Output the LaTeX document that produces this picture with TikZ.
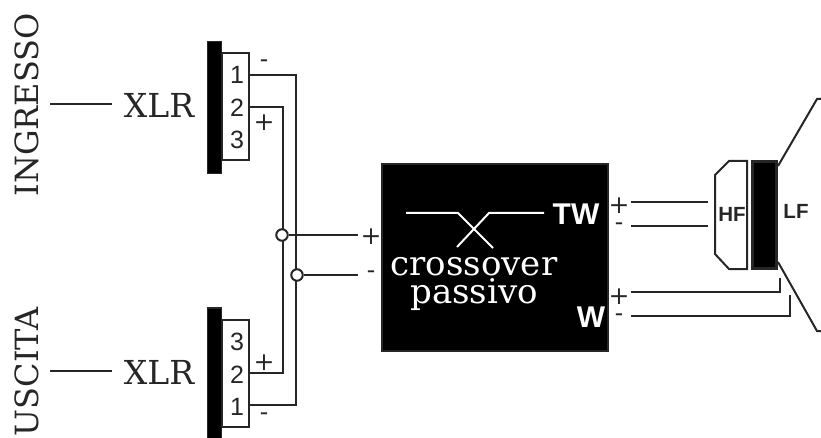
\documentclass[tikz,border=0pt]{standalone}
\usepackage{fontspec}
\usepackage{tikz}
\newfontfamily\labelsans{Liberation Sans}
\newfontfamily\labelserif{DejaVu Serif}
\tikzset{
  wire/.style={line width=2pt,draw=black!85},
  bar/.style={draw=black!85,line width=1.4pt,fill=black,inner sep=0pt},
  pinbox/.style={draw=black!85,line width=2pt,fill=white,inner sep=0pt,minimum width=27pt,minimum height=107pt},
  pin/.style={font=\labelsans\fontsize{25}{25}\selectfont,text=black!85,inner sep=0pt},
  sign/.style={font=\labelserif\fontsize{25}{25}\selectfont,text=black!85,inner sep=0pt},
  serif/.style={font=\labelserif\fontsize{33}{33}\selectfont,text=black!85,inner sep=0pt,anchor=base},
  side/.style={font=\labelserif\fontsize{32}{32}\selectfont,text=black!85,inner sep=0pt,rotate=90},
  tag/.style={font=\labelsans\bfseries\fontsize{30}{30}\selectfont,text=white,inner sep=0pt},
  driver/.style={font=\labelsans\bfseries\fontsize{20.5}{20.5}\selectfont,text=black!85,inner sep=0pt},
  inner/.style={font=\labelserif\fontsize{34}{34}\selectfont,text=white,inner sep=0pt,anchor=base},
  joint/.style={circle,draw=black!85,line width=2pt,fill=white,inner sep=0pt,minimum size=11.5pt}
}
\begin{document}
\begin{tikzpicture}[x=1pt,y=-1pt]
  \useasboundingbox (0,0) rectangle (821,438);

  % input connector
  \node at (26.5,105) [side] (ingresso) {INGRESSO};
  \node at (159,117.5) [serif] (xlrin) {XLR};
  \coordinate (xin) at (112,104);
  \coordinate (lin) at (50,104);
  \draw[wire] (lin) -- (xin);
  \node at (214.5,107.5) [bar,minimum width=14pt,minimum height=132pt] (barin) {};
  \node at (235.5,106.5) [pinbox] (boxin) {};
  \node at (237,75) [pin] (inone) {1};
  \node at (237,108) [pin] (intwo) {2};
  \node at (237,140) [pin] (inthree) {3};
  \node at (264,64) [sign] (inminus) {-};
  \node at (264,123) [sign] (inplus) {+};

  % output connector
  \node at (26.5,372) [side] (uscita) {USCITA};
  \node at (159,384.5) [serif] (xlrout) {XLR};
  \coordinate (xout) at (112,371);
  \coordinate (lout) at (50,371);
  \draw[wire] (lout) -- (xout);
  \node at (214.5,374) [bar,minimum width=14pt,minimum height=132pt] (barout) {};
  \node at (235.5,373.5) [pinbox] (boxout) {};
  \node at (237,342) [pin] (outthree) {3};
  \node at (237,375) [pin] (outtwo) {2};
  \node at (237,407) [pin] (outone) {1};
  \node at (264,363) [sign] (outplus) {+};
  \node at (264,417) [sign] (outminus) {-};

  % wiring between connectors
  \coordinate (a1) at (249,75);
  \coordinate (a2) at (296,75);
  \coordinate (a3) at (296,405);
  \coordinate (a4) at (249,405);
  \coordinate (b1) at (249,107);
  \coordinate (b2) at (283,107);
  \coordinate (b3) at (283,373);
  \coordinate (b4) at (249,373);
  \draw[wire] (a1) -- (a2) -- (a3) -- (a4);
  \draw[wire] (b1) -- (b2) -- (b3) -- (b4);
  \node at (282,235) [joint] (jplus) {};
  \node at (297,275) [joint] (jminus) {};
  \coordinate (tplus) at (358,235);
  \coordinate (tminus) at (358,275);
  \draw[wire] (jplus) -- (tplus);
  \draw[wire] (jminus) -- (tminus);
  \node at (371,237) [sign] (plusx) {+};
  \node at (371,275) [sign] (minusx) {-};

  % crossover
  \node at (495,257.5) [draw=black!85,line width=1.8pt,fill=black,inner sep=0pt,minimum width=226pt,minimum height=187pt] (xover) {};
  \coordinate (c1) at (406,213);
  \coordinate (c2) at (458,213);
  \coordinate (c3) at (493,248);
  \coordinate (d1) at (544,213);
  \coordinate (d2) at (489,213);
  \coordinate (d3) at (457,247);
  \draw[wire,draw=white] (c1) -- (c2) -- (c3);
  \draw[wire,draw=white] (d1) -- (d2) -- (d3);
  \node at (474,275) [inner] (cross) {crossover};
  \node at (474,303) [inner] (pass) {passivo};
  \node at (576,214) [tag] (tw) {TW};
  \node at (591,317) [tag] (w) {W};

  % speaker
  \draw[wire,fill=white] (715,175) -- (729,161) -- (747,161) -- (747,269) -- (729,269) -- (715,254) -- cycle;
  \node at (764,215) [bar,draw=black!85,line width=3pt,minimum width=24pt,minimum height=107pt] (lfbar) {};
  \node at (732,214) [driver] (hf) {HF};
  \node at (796,211) [driver] (lf) {LF};
  \coordinate (u1) at (778,166);
  \coordinate (u2) at (817,99);
  \coordinate (u3) at (821,99);
  \coordinate (v1) at (778,262);
  \coordinate (v2) at (817,331);
  \coordinate (v3) at (821,331);
  \draw[wire] (u1) -- (u2) -- (u3);
  \draw[wire] (v1) -- (v2) -- (v3);

  % outputs
  \coordinate (e1) at (631,202);
  \coordinate (e2) at (708,202);
  \coordinate (f1) at (631,226);
  \coordinate (f2) at (708,226);
  \coordinate (g1) at (631,292);
  \coordinate (g2) at (780,292);
  \coordinate (g3) at (780,278);
  \coordinate (h1) at (631,316);
  \coordinate (h2) at (790,316);
  \coordinate (h3) at (790,295);
  \draw[wire] (e1) -- (e2);
  \draw[wire] (f1) -- (f2);
  \draw[wire] (g1) -- (g2) -- (g3);
  \draw[wire] (h1) -- (h2) -- (h3);
  \node at (619,206) [sign] (twplus) {+};
  \node at (619,227) [sign] (twminus) {-};
  \node at (619,297) [sign] (wplus) {+};
  \node at (619,318) [sign] (wminus) {-};
\end{tikzpicture}
\end{document}
